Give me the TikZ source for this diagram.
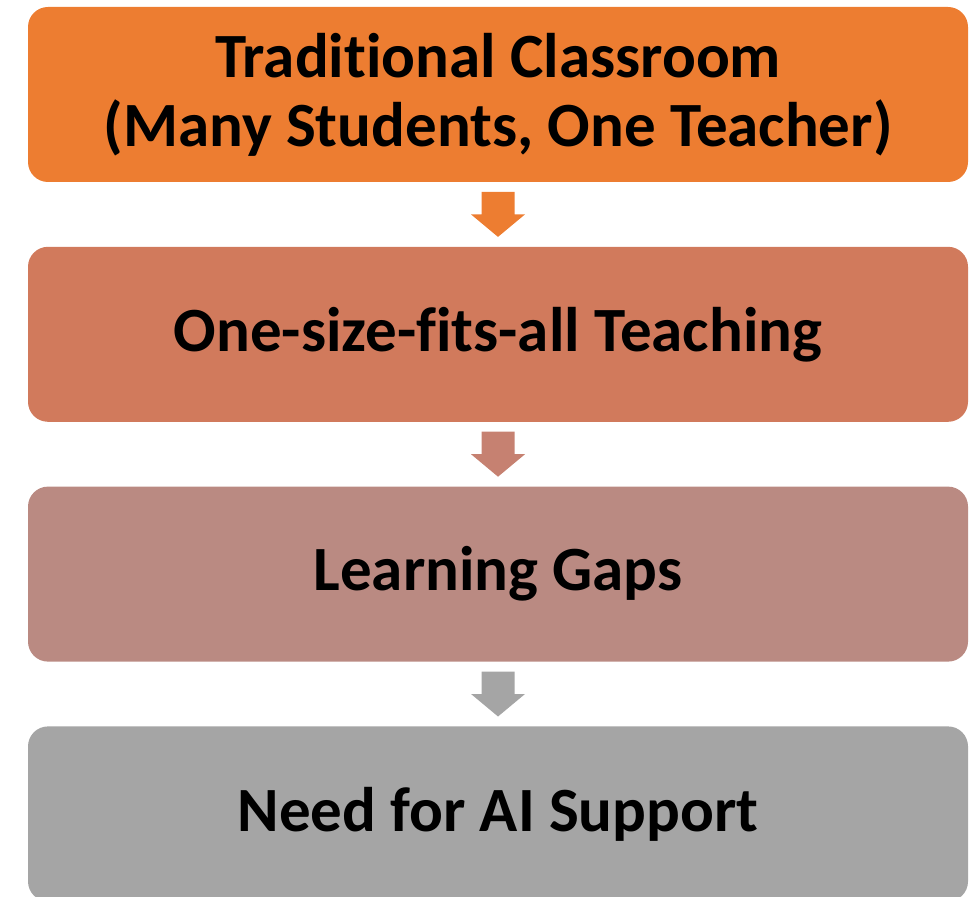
\documentclass[tikz,border=0pt]{standalone}
\usepackage{fontspec}
\setmainfont{Carlito}[Ligatures={NoCommon}]
\usetikzlibrary{positioning, calc}

\definecolor{stageA}{RGB}{237,125,49}
\definecolor{stageB}{RGB}{209,122,92}
\definecolor{stageC}{RGB}{186,138,130}
\definecolor{stageD}{RGB}{165,165,165}
\definecolor{arrowB}{RGB}{198,129,113}

% block arrow between two stacked boxes
\newcommand{\stagearrow}[3]{%
    \path (#1.south) -- (#2.north) coordinate[midway] (#1-#2);
    \fill [#3] ($(#1-#2)+(-16.5,-22.5)$) -- ++(33,0) -- ++(0,22.5) -- ++(10.5,0) -- ++(-27,22.5) -- ++(-27,-22.5) -- ++(10.5,0) -- cycle;
}

\begin{document}
\begin{tikzpicture}[x=0.5pt, y=-0.5pt,
    stagebox/.style={rectangle, rounded corners=10pt, align=center, minimum width=470pt, minimum height=87.5pt, inner sep=0pt, font=\fontsize{31.5}{34.5}\selectfont\bfseries}]
    \useasboundingbox (0, 0) rectangle (972, 897);
    \node (classroom) [stagebox, fill=stageA] at (498, 94.5) {Traditional Classroom\\(Many Students, One Teacher)};
    \node (teaching) [stagebox, fill=stageB, below=32pt of classroom] {One-size-fits-all Teaching};
    \node (gaps) [stagebox, fill=stageC, below=32pt of teaching] {Learning Gaps};
    \node (support) [stagebox, fill=stageD, below=32pt of gaps] {Need for AI Support};
    \stagearrow{classroom}{teaching}{stageA}
    \stagearrow{teaching}{gaps}{arrowB}
    \stagearrow{gaps}{support}{stageD}
\end{tikzpicture}
\end{document}
